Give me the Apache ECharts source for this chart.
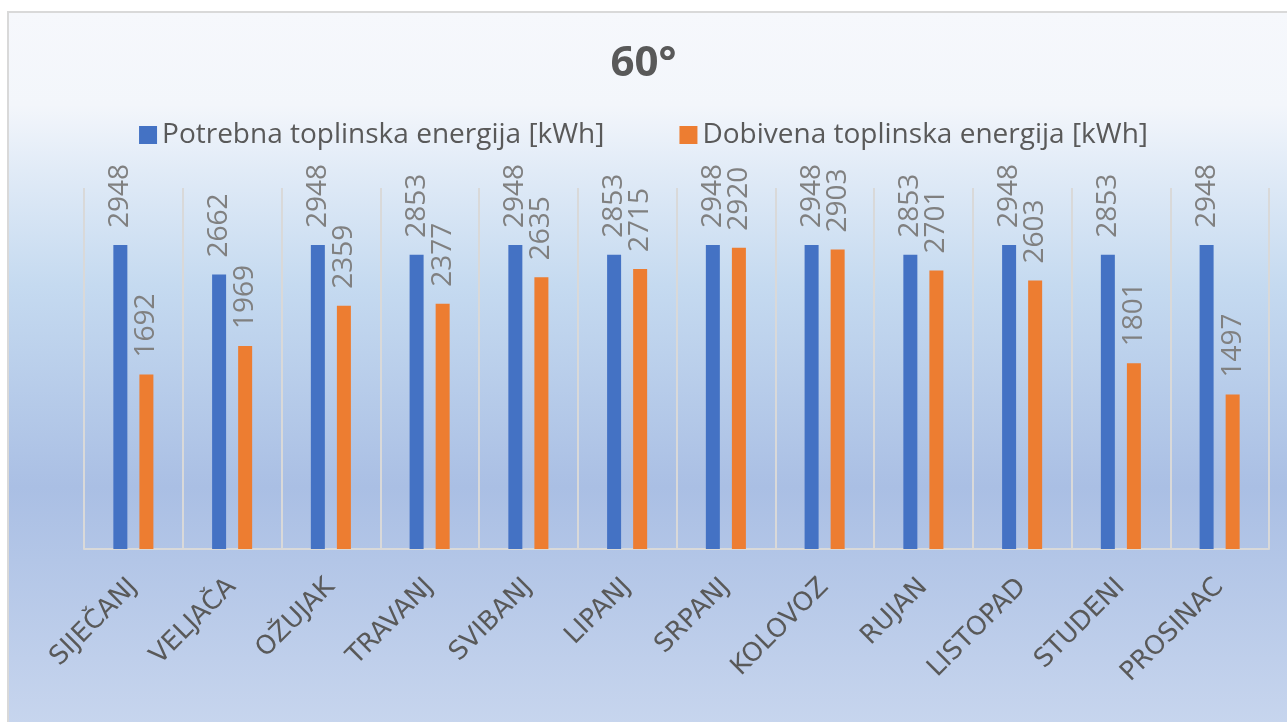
<!DOCTYPE html>
<html>
<head>
<meta charset="utf-8">
<script src="https://cdn.jsdelivr.net/npm/echarts@6/dist/echarts.min.js"></script>
<style>
    html, body { margin: 0; padding: 0; background: #ffffff; }
    #main { width: 1287px; height: 722px; }
</style>
</head>
<body>
<div id="main"></div>
<script>
// mjeseci
const months = ['SIJEČANJ', 'VELJAČA', 'OŽUJAK', 'TRAVANJ', 'SVIBANJ', 'LIPANJ', 'SRPANJ', 'KOLOVOZ', 'RUJAN', 'LISTOPAD', 'STUDENI', 'PROSINAC'];
// potrebna toplinska energija [kWh]
const potrebna = [2948, 2662, 2948, 2853, 2948, 2853, 2948, 2948, 2853, 2948, 2853, 2948];
// dobivena toplinska energija [kWh]
const dobivena = [1692, 1969, 2359, 2377, 2635, 2715, 2920, 2903, 2701, 2603, 1801, 1497];
const seriesNames = ['Potrebna toplinska energija [kWh]', 'Dobivena toplinska energija [kWh]'];

const fontFamily = '"Open Sans", "Noto Sans", sans-serif';

var myChart = echarts.init(document.getElementById('main'));

const barLabel = {
    show: true,
    position: 'top',
    rotate: 90,
    align: 'left',
    verticalAlign: 'middle',
    distance: 17,
    fontSize: 28,
    fontFamily: fontFamily,
    color: '#808080'
};

var option = {
    backgroundColor: '#ffffff',
    animation: false,
    graphic: [
        {
            type: 'rect',
            z: -10,
            shape: { x: 8, y: 12, width: 1290, height: 720 },
            style: {
                stroke: '#d9d9d9',
                lineWidth: 2,
                fill: new echarts.graphic.LinearGradient(0, 0, 0, 1, [
                    { offset: 0, color: '#f6f8fc' },
                    { offset: 0.13, color: '#f3f6fb' },
                    { offset: 0.22, color: '#e1ebf7' },
                    { offset: 0.38, color: '#c5daf0' },
                    { offset: 0.66, color: '#aabfe4' },
                    { offset: 1, color: '#c8d6ee' }
                ])
            }
        }
    ],
    title: {
        text: '60°',
        left: 'center',
        top: 38,
        textStyle: {
            fontSize: 42,
            fontWeight: 'bold',
            fontFamily: fontFamily,
            color: '#595959'
        }
    },
    legend: {
        top: 116,
        left: 'center',
        icon: 'rect',
        itemWidth: 18,
        itemHeight: 18,
        itemGap: 75,
        data: seriesNames,
        textStyle: {
            fontSize: 28,
            fontFamily: fontFamily,
            color: '#595959'
        }
    },
    grid: {
        left: 84,
        right: 18,
        top: 188,
        bottom: 173
    },
    xAxis: {
        type: 'category',
        data: months,
        axisLine: { lineStyle: { color: '#d9d9d9', width: 2 } },
        axisTick: { show: false },
        splitLine: { show: true, interval: 0, lineStyle: { color: '#d9d9d9', width: 2 } },
        axisLabel: {
            interval: 0,
            rotate: 45,
            margin: 34,
            fontSize: 26,
            fontFamily: '"DejaVu Sans", sans-serif',
            color: '#595959'
        }
    },
    yAxis: {
        type: 'value',
        min: 0,
        max: 3500,
        show: false,
        splitLine: { show: false }
    },
    series: [
        {
            name: seriesNames[0],
            type: 'bar',
            data: potrebna,
            barWidth: 14,
            barGap: '86%',
            itemStyle: { color: '#4472c4' },
            label: barLabel
        },
        {
            name: seriesNames[1],
            type: 'bar',
            data: dobivena,
            barWidth: 14,
            itemStyle: { color: '#ed7d31' },
            label: barLabel
        }
    ]
};
option && myChart.setOption(option);
</script>
</body>
</html>
